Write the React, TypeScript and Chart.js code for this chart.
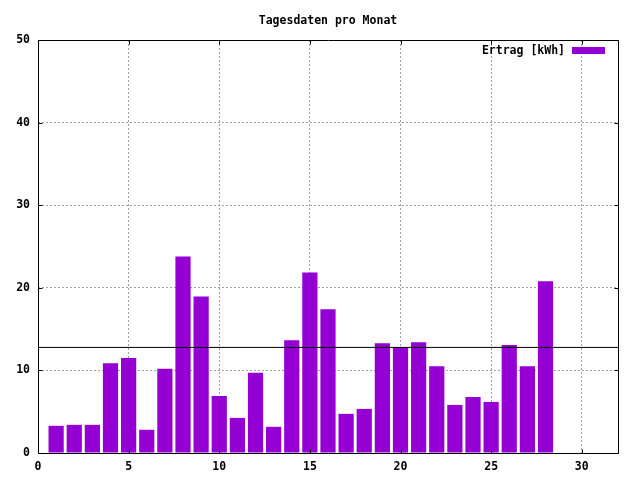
import React, { useEffect, useRef } from "react";
import { Chart, registerables } from "chart.js";

Chart.register(...registerables);

const days = [1, 2, 3, 4, 5, 6, 7, 8, 9, 10, 11, 12, 13, 14, 15, 16, 17, 18, 19, 20, 21, 22, 23, 24, 25, 26, 27, 28];
const ertrag = [3.29, 3.41, 3.41, 10.88, 11.49, 2.81, 10.2, 23.78, 18.96, 6.9, 4.25, 9.72, 3.17, 13.66, 21.85, 17.4, 4.74, 5.34, 13.3, 12.82, 13.42, 10.5, 5.82, 6.78, 6.18, 13.06, 10.5, 20.8];
const refLevel = 12.78;
const xRange = [0, 32];
const yRange = [0, 50];
const title = "Tagesdaten pro Monat";
const seriesLabel = "Ertrag [kWh]";

const FONT = "'DejaVu Sans Mono', 'Liberation Mono', monospace";

const framePlugin = {
  id: "frame",
  afterDatasetsDraw(chart: any) {
    const { ctx, chartArea } = chart;
    const { left, right, top, bottom } = chartArea;
    const xs = chart.scales.x;
    const ys = chart.scales.y;
    ctx.save();
    ctx.strokeStyle = "#000";
    ctx.lineWidth = 1;
    ctx.setLineDash([]);
    ctx.beginPath();
    const L = Math.round(left) + 0.5, R = Math.round(right) + 0.5;
    const T = Math.round(top) + 0.5, B = Math.round(bottom) + 0.5;
    ctx.rect(L, T, R - L, B - T);
    const tl = 4;
    xs.ticks.forEach((t: any) => {
      const px = Math.round(xs.getPixelForValue(t.value)) + 0.5;
      ctx.moveTo(px, B); ctx.lineTo(px, B - tl);
      ctx.moveTo(px, T); ctx.lineTo(px, T + tl);
    });
    ys.ticks.forEach((t: any) => {
      const py = Math.round(ys.getPixelForValue(t.value)) + 0.5;
      ctx.moveTo(L, py); ctx.lineTo(L + tl, py);
      ctx.moveTo(R, py); ctx.lineTo(R - tl, py);
    });
    ctx.stroke();

    // title
    ctx.fillStyle = "#000";
    ctx.font = "bold 11.5px " + FONT;
    ctx.textAlign = "center";
    ctx.textBaseline = "middle";
    ctx.fillText(title, (left + right) / 2, 21.5);

    // legend inside plot, top right
    const ds = chart.data.datasets[0];
    ctx.textAlign = "right";
    ctx.fillText(ds.label, right - 53, 51);
    ctx.fillStyle = ds.backgroundColor;
    ctx.fillRect(right - 46, 47, 33, 7);
    ctx.restore();
  },
};

export default function App() {
  const ref = useRef<HTMLCanvasElement>(null);
  useEffect(() => {
    document.body.style.margin = "0";
    const chart = new Chart(ref.current as HTMLCanvasElement, {
      type: "bar",
      data: {
        datasets: [
          {
            type: "bar",
            label: seriesLabel,
            data: days.map((d, i) => ({ x: d, y: ertrag[i] })),
            backgroundColor: "#9400d3",
            borderWidth: 0,
            barPercentage: 0.84,
            categoryPercentage: 1,
            order: 1,
          } as any,
          {
            type: "line",
            label: "mittel",
            data: [
              { x: xRange[0], y: refLevel },
              { x: xRange[1], y: refLevel },
            ],
            borderColor: "#000",
            borderWidth: 1,
            pointRadius: 0,
            order: 0,
          } as any,
        ],
      },
      plugins: [framePlugin],
      options: {
        animation: false,
        responsive: false,
        devicePixelRatio: 1,
        layout: { padding: { top: 40, right: 22, bottom: 0, left: 0 } },
        plugins: {
          legend: { display: false },
          title: { display: false },
          tooltip: { enabled: false },
        },
        scales: {
          x: {
            type: "linear",
            min: xRange[0],
            max: xRange[1],
            offset: false,
            grid: {
              offset: false,
              color: "#a0a0a0",
              lineWidth: 1,
              drawTicks: false,
            },
            border: { display: false, dash: [2, 2] },
            ticks: {
              stepSize: 5,
              includeBounds: false,
              padding: 7,
              color: "#000",
              font: { family: FONT, size: 11.5, weight: "bold" },
              maxRotation: 0,
            },
            afterFit: (s: any) => {
              s.height = 27;
            },
          },
          y: {
            type: "linear",
            min: yRange[0],
            max: yRange[1],
            grid: {
              color: "#a0a0a0",
              lineWidth: 1,
              drawTicks: false,
            },
            border: { display: false, dash: [2, 2] },
            ticks: {
              stepSize: 10,
              padding: 8,
              color: "#000",
              font: { family: FONT, size: 11.5, weight: "bold" },
            },
            afterFit: (s: any) => {
              s.width = 38;
            },
          },
        },
      } as any,
    });
    return () => chart.destroy();
  }, []);
  return (
    <div style={{ position: "absolute", left: 0, top: 0, width: 640, height: 480, background: "#fff" }}>
      <canvas ref={ref} width={640} height={480} style={{ width: 640, height: 480 }} />
    </div>
  );
}
